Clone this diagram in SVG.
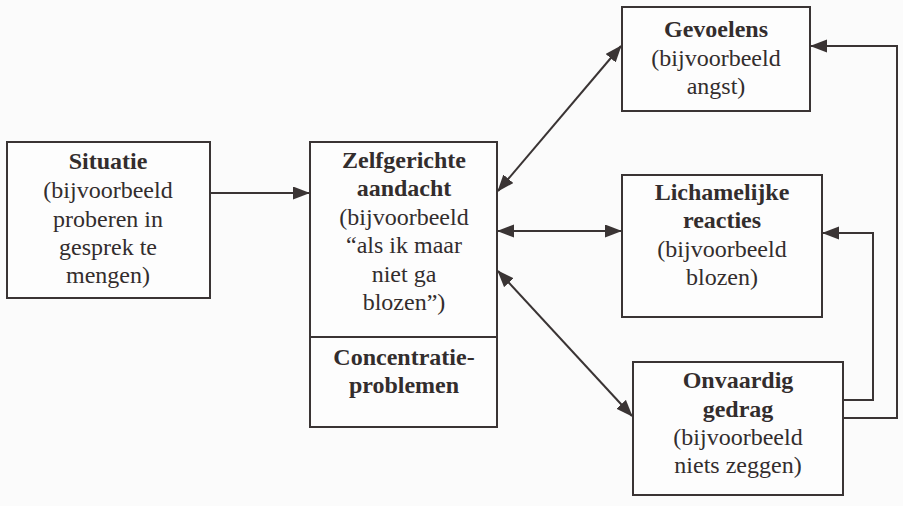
<svg xmlns="http://www.w3.org/2000/svg" width="903" height="506" viewBox="0 0 903 506">
<style>
.box{fill:#fdfdfd;stroke:#3a3434;stroke-width:2}
.t{font-size:24px;fill:#332d2d;text-anchor:middle}
.b{font-weight:bold}
.c{fill:none;stroke:#3a3434;stroke-width:2}
</style>
<defs>
<marker id="ah" markerUnits="userSpaceOnUse" markerWidth="18" markerHeight="14" refX="16" refY="6.5" orient="auto-start-reverse">
<path d="M0,0 L17,6.5 L0,13 z" fill="#3a3434"/>
</marker>
</defs>
<rect width="903" height="506" fill="#fbfbfb"/>
<g font-family="Liberation Serif, Tinos, Noto Serif, DejaVu Serif, FreeSerif, Times, serif">
<g id="situatie">
<rect class="box" x="7" y="142" width="203" height="156"/>
<text class="t b" x="108" y="169">Situatie</text>
<text class="t" x="108" y="198">(bijvoorbeeld</text>
<text class="t" x="108" y="227">proberen in</text>
<text class="t" x="108" y="255">gesprek te</text>
<text class="t" x="108" y="283">mengen)</text>
</g>
<g id="zelfgerichte-aandacht">
<rect class="box" x="310" y="142" width="187" height="285"/>
<line class="c" x1="310" y1="337" x2="497" y2="337"/>
<text class="t b" x="404" y="168">Zelfgerichte</text>
<text class="t b" x="404" y="196">aandacht</text>
<text class="t" x="404" y="225">(bijvoorbeeld</text>
<text class="t" x="404" y="253">“als ik maar</text>
<text class="t" x="404" y="282">niet ga</text>
<text class="t" x="404" y="310">blozen”)</text>
<text class="t b" x="404" y="365">Concentratie-</text>
<text class="t b" x="404" y="393">problemen</text>
</g>
<g id="gevoelens">
<rect class="box" x="622" y="7" width="188" height="104"/>
<text class="t b" x="716" y="37">Gevoelens</text>
<text class="t" x="716" y="66">(bijvoorbeeld</text>
<text class="t" x="716" y="94">angst)</text>
</g>
<g id="lichamelijke-reacties">
<rect class="box" x="622" y="175" width="200" height="142"/>
<text class="t b" x="722" y="200">Lichamelijke</text>
<text class="t b" x="722" y="228">reacties</text>
<text class="t" x="722" y="257">(bijvoorbeeld</text>
<text class="t" x="722" y="285">blozen)</text>
</g>
<g id="onvaardig-gedrag">
<rect class="box" x="633" y="362" width="210" height="133"/>
<text class="t b" x="738" y="388">Onvaardig</text>
<text class="t b" x="738" y="417">gedrag</text>
<text class="t" x="738" y="445">(bijvoorbeeld</text>
<text class="t" x="738" y="473">niets zeggen)</text>
</g>
</g>
<g id="connectors">
<line class="c" x1="210" y1="193" x2="309" y2="193" marker-end="url(#ah)"/>
<line class="c" x1="498" y1="191" x2="621" y2="46" marker-start="url(#ah)" marker-end="url(#ah)"/>
<line class="c" x1="498" y1="231" x2="621" y2="231" marker-start="url(#ah)" marker-end="url(#ah)"/>
<line class="c" x1="498" y1="271" x2="632" y2="416" marker-start="url(#ah)" marker-end="url(#ah)"/>
<polyline class="c" points="843,400 873,400 873,233 823,233" marker-end="url(#ah)"/>
<polyline class="c" points="843,418 897,418 897,46 811,46" marker-end="url(#ah)"/>
</g>
</svg>
